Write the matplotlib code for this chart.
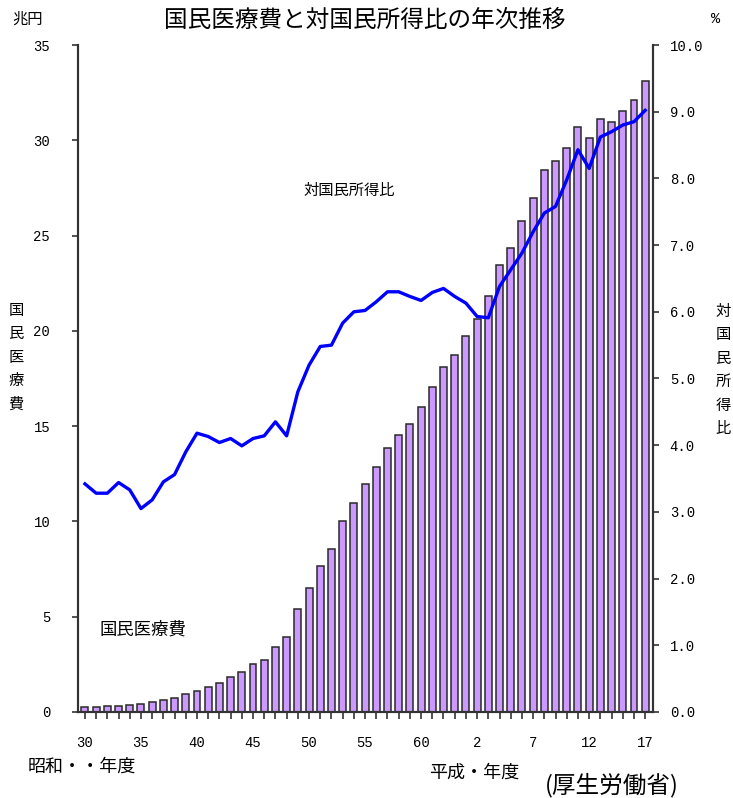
import matplotlib
matplotlib.use("Agg")
import matplotlib.pyplot as plt
import numpy as np

plt.rcParams['font.family'] = ['Noto Sans CJK JP', 'DejaVu Sans']

# 年度ラベル(昭和30年度〜平成17年度)
years = ["S30", "S31", "S32", "S33", "S34", "S35", "S36", "S37", "S38", "S39",
         "S40", "S41", "S42", "S43", "S44", "S45", "S46", "S47", "S48", "S49",
         "S50", "S51", "S52", "S53", "S54", "S55", "S56", "S57", "S58", "S59",
         "S60", "S61", "S62", "S63", "H1", "H2", "H3", "H4", "H5", "H6",
         "H7", "H8", "H9", "H10", "H11", "H12", "H13", "H14", "H15", "H16", "H17"]

# 国民医療費(兆円)
medical_cost = [0.24, 0.26, 0.29, 0.32, 0.35, 0.41, 0.51, 0.61, 0.74, 0.94,
                1.12, 1.30, 1.52, 1.81, 2.08, 2.50, 2.73, 3.39, 3.96, 5.38,
                6.48, 7.68, 8.57, 10.00, 10.95, 11.98, 12.87, 13.86, 14.54, 15.09,
                16.02, 17.07, 18.08, 18.75, 19.73, 20.61, 21.83, 23.48, 24.36, 25.79,
                26.96, 28.45, 28.91, 29.58, 30.70, 30.14, 31.10, 30.95, 31.54, 32.11,
                33.13]

# 対国民所得比(%)
income_ratio = [3.42, 3.28, 3.28, 3.44, 3.33, 3.05, 3.18, 3.45, 3.56, 3.90,
                4.18, 4.13, 4.04, 4.10, 3.99, 4.10, 4.14, 4.35, 4.14, 4.80,
                5.20, 5.48, 5.50, 5.83, 6.00, 6.02, 6.15, 6.30, 6.30, 6.23,
                6.17, 6.29, 6.35, 6.23, 6.13, 5.93, 5.91, 6.38, 6.63, 6.88,
                7.20, 7.48, 7.58, 7.98, 8.43, 8.15, 8.62, 8.70, 8.80, 8.85,
                9.02]

# 軸目盛ラベル
x_tick_labels = ["30", "35", "40", "45", "50", "55", "60", "2", "7", "12", "17"]
left_ticks = [0, 5, 10, 15, 20, 25, 30, 35]
right_ticks = [0, 1, 2, 3, 4, 5, 6, 7, 8, 9, 10]

num_font = 'Liberation Mono'
axis_col = '#333333'

fig = plt.figure(figsize=(7.33, 7.98), dpi=100)
ax = fig.add_axes([0.1064, 0.1078, 0.7845, 0.8358])
x = np.arange(len(years))

ax.bar(x, medical_cost, width=0.62, color='#CC99FF', edgecolor='#2a2a2a',
       linewidth=1.1, zorder=2)
ax.set_xlim(-0.62, 50.7)
ax.set_ylim(0, 35)
ax.set_yticks(left_ticks)
ax.set_yticklabels([str(v) for v in left_ticks], fontfamily=num_font, fontsize=10)
ax.tick_params(axis='y', direction='out', length=4, width=1.2, color=axis_col, pad=16)

ax.set_xticks(x)
labels = [""] * len(x)
for i, lab in zip(range(0, len(x), 5), x_tick_labels):
    labels[i] = lab
ax.set_xticklabels(labels, fontfamily=num_font, fontsize=10)
ax.tick_params(axis='x', direction='out', length=5, width=1.2, color=axis_col, pad=12)

ax.spines['top'].set_visible(False)
for s in ['left', 'right', 'bottom']:
    ax.spines[s].set_color(axis_col)
    ax.spines[s].set_linewidth(1.5)

ax2 = ax.twinx()
ax2.plot(x, income_ratio, color='#0000FF', linewidth=2.4, zorder=3)
ax2.set_ylim(0, 10)
ax2.set_yticks(right_ticks)
ax2.set_yticklabels([f"{v:.1f}" for v in right_ticks], fontfamily=num_font, fontsize=10)
ax2.tick_params(axis='y', direction='out', length=4, width=1.2, color=axis_col, pad=8)
ax2.spines['top'].set_visible(False)
for s in ['left', 'right', 'bottom']:
    ax2.spines[s].set_color(axis_col)
    ax2.spines[s].set_linewidth(1.5)

# 見出しと注記
fig.text(365 / 733, 1 - 20 / 798, "国民医療費と対国民所得比の年次推移",
         ha='center', va='center', fontsize=17)
fig.text(28 / 733, 1 - 19 / 798, "兆円", ha='center', va='center', fontsize=11)
fig.text(716 / 733, 1 - 19 / 798, "%", ha='center', va='center', fontsize=11,
         fontfamily=num_font)

fig.text(16 / 733, 1 - 357 / 798, "\n".join("国民医療費"), ha='center', va='center',
         fontsize=11, linespacing=1.5)
fig.text(723 / 733, 1 - 370 / 798, "\n".join("対国民所得比"), ha='center', va='center',
         fontsize=11, linespacing=1.5)

fig.text(349 / 733, 1 - 190 / 798, "対国民所得比", ha='center', va='center', fontsize=11)
fig.text(143 / 733, 1 - 630 / 798, "国民医療費", ha='center', va='center', fontsize=12.5)

fig.text(82 / 733, 1 - 767 / 798, "昭和・・年度", ha='center', va='center', fontsize=13)
fig.text(474 / 733, 1 - 773 / 798, "平成・年度", ha='center', va='center', fontsize=13)
fig.text(612 / 733, 1 - 785 / 798, "(厚生労働省)", ha='center', va='center', fontsize=17)

fig.savefig("out.png", dpi=100)
